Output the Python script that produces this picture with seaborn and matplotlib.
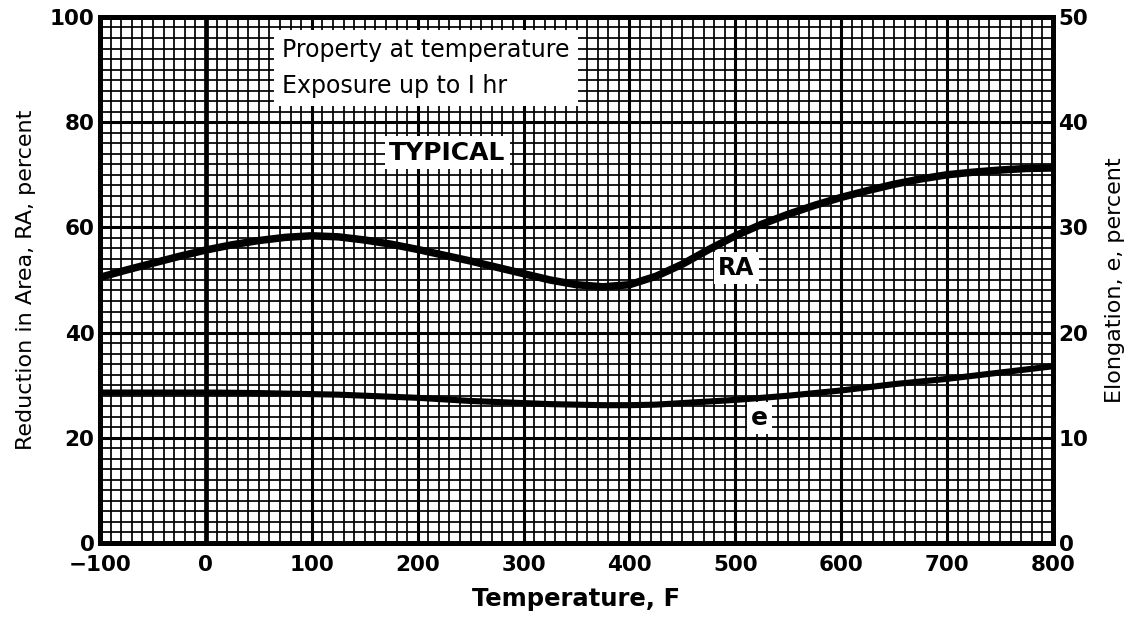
import numpy as np
import pandas as pd
import matplotlib
matplotlib.use("Agg")
import matplotlib.pyplot as plt
import seaborn as sns
from matplotlib.ticker import MultipleLocator

# values
temperature = [-100, -75, -50, -25, 0, 25, 50, 75, 100, 125, 150, 175, 200, 225,
               250, 275, 300, 325, 350, 375, 400, 425, 450, 475, 500, 525, 550,
               575, 600, 625, 650, 675, 700, 725, 750, 775, 800]
reduction_area = [50.5, 51.9, 53.2, 54.5, 55.7, 56.7, 57.5, 58.1, 58.4, 58.2, 57.6,
                  56.8, 55.8, 54.7, 53.6, 52.4, 51.2, 50.0, 49.1, 48.7, 49.1, 50.7,
                  53.0, 55.8, 58.4, 60.6, 62.5, 64.2, 65.7, 67.0, 68.2, 69.2, 70.0,
                  70.5, 70.9, 71.2, 71.3]
elongation = [14.3, 14.3, 14.3, 14.3, 14.3, 14.28, 14.25, 14.2, 14.15, 14.1, 14.0,
              13.9, 13.8, 13.65, 13.5, 13.4, 13.3, 13.2, 13.15, 13.1, 13.1, 13.15,
              13.3, 13.45, 13.6, 13.8, 14.0, 14.25, 14.5, 14.8, 15.1, 15.35, 15.6,
              15.9, 16.2, 16.5, 16.8]

x_ticks = [-100, 0, 100, 200, 300, 400, 500, 600, 700, 800]
x_tick_labels = ["\u2212100", "0", "100", "200", "300", "400", "500", "600", "700", "800"]
left_ticks = [0, 20, 40, 60, 80, 100]
right_ticks = [0, 10, 20, 30, 40, 50]

df = pd.DataFrame({"temp": temperature, "ra": reduction_area, "e": elongation})

sns.set_style("white")
plt.rcParams["font.family"] = ["DejaVu Sans"]
plt.rcParams["text.color"] = "black"
plt.rcParams["axes.labelcolor"] = "black"
plt.rcParams["xtick.color"] = "black"
plt.rcParams["ytick.color"] = "black"

fig = plt.figure(figsize=(11.38, 6.26), dpi=100)
ax = fig.add_axes([0.0879, 0.1326, 0.8374, 0.8403])
ax2 = ax.twinx()

# graph paper grid
ax.set_xlim(-100, 800)
ax.set_ylim(0, 100)
ax.xaxis.set_major_locator(MultipleLocator(100))
ax.xaxis.set_minor_locator(MultipleLocator(10))
ax.yaxis.set_major_locator(MultipleLocator(20))
ax.yaxis.set_minor_locator(MultipleLocator(2))
ax.grid(which="major", color="black", lw=2.2)
ax.grid(which="minor", color="black", lw=1.25)
ax.set_axisbelow(True)
ax.axvline(0, color="black", lw=3.4, zorder=1.5)

sns.lineplot(data=df, x="temp", y="ra", ax=ax, color="black", lw=5.4, zorder=3)
sns.lineplot(data=df, x="temp", y="e", ax=ax2, color="black", lw=4.4, zorder=3)

ax.set_xticks(x_ticks)
ax.set_xticklabels(x_tick_labels)
ax.set_yticks(left_ticks)
ax2.set_ylim(0, 50)
ax2.set_yticks(right_ticks)

for a in (ax, ax2):
    a.tick_params(which="both", length=0, labelsize=15.5, pad=4, colors="black")
    for lab in a.get_xticklabels() + a.get_yticklabels():
        lab.set_fontweight("bold")
    for sp in a.spines.values():
        sp.set_linewidth(3.6)
        sp.set_color("black")
ax.tick_params(axis="x", pad=9)

ax.set_xlabel("Temperature, F", fontsize=17.5, fontweight="bold", labelpad=8, color="black")
ax.set_ylabel("Reduction in Area, RA, percent", fontsize=16, labelpad=10, color="black")
ax2.set_ylabel("Elongation, e, percent", fontsize=16, labelpad=12, color="black")

box = dict(facecolor="white", edgecolor="none", pad=3)
ax2.text(72, 90.3, "Property at temperature\nExposure up to I hr", transform=ax.transData,
         fontsize=17, ha="left", va="center", linespacing=1.65, color="black",
         bbox=dict(facecolor="white", edgecolor="none", pad=6), zorder=5)
ax2.text(228, 74.2, "TYPICAL", transform=ax.transData, fontsize=18, fontweight="bold",
         ha="center", va="center", bbox=box, zorder=5, color="black")
ax2.text(501, 52.3, "RA", transform=ax.transData, fontsize=17, fontweight="bold",
         ha="center", va="center", bbox=box, zorder=5, color="black")
ax2.text(523, 23.8, "e", transform=ax.transData, fontsize=18, fontweight="bold",
         ha="center", va="center", bbox=box, zorder=5, color="black")

fig.savefig("out.png", dpi=100)
